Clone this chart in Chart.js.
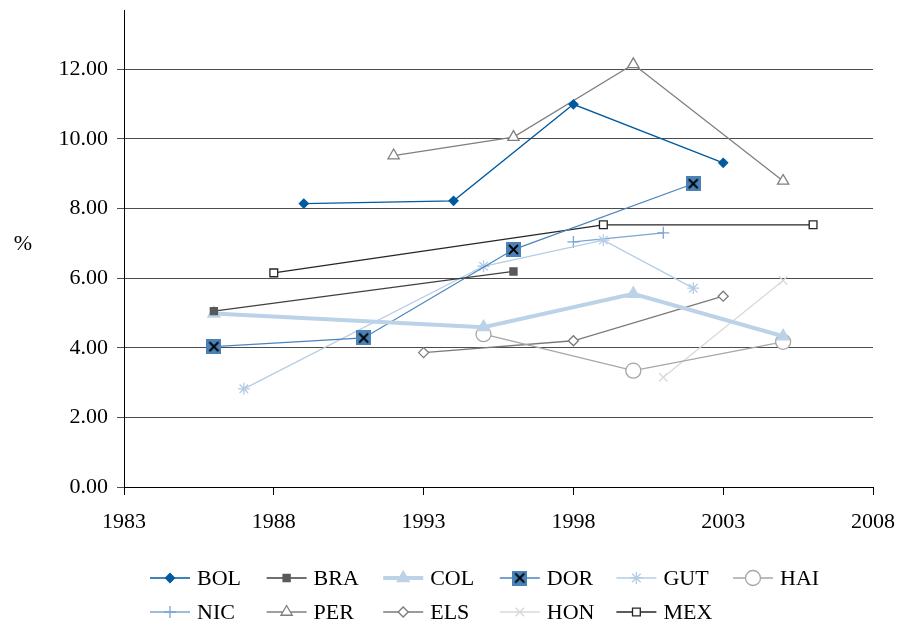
<!DOCTYPE html>
<html>
<head>
<meta charset="utf-8">
<script src="https://cdn.jsdelivr.net/npm/chart.js@4/dist/chart.umd.min.js"></script>
<style>
  body { margin: 0; background: #fff; }
  #wrap { width: 899px; height: 625px; }
</style>
</head>
<body>
<div id="wrap"><canvas id="chart"></canvas></div>
<script>
const countries = ["BOL", "BRA", "COL", "DOR", "GUT", "HAI", "NIC", "PER", "ELS", "HON", "MEX"];

const bolYears = [1989, 1994, 1998, 2003];
const bolValues = [8.14, 8.22, 10.99, 9.31];
const braYears = [1986, 1996];
const braValues = [5.05, 6.19];
const colYears = [1986, 1995, 2000, 2005];
const colValues = [4.98, 4.59, 5.55, 4.33];
const dorYears = [1986, 1991, 1996, 2002];
const dorValues = [4.03, 4.28, 6.82, 8.71];
const gutYears = [1987, 1995, 1999, 2002];
const gutValues = [2.82, 6.34, 7.09, 5.71];
const haiYears = [1995, 2000, 2005];
const haiValues = [4.39, 3.34, 4.17];
const nicYears = [1998, 2001];
const nicValues = [7.04, 7.3];
const perYears = [1992, 1996, 2000, 2005];
const perValues = [9.52, 10.05, 12.14, 8.79];
const elsYears = [1993, 1998, 2003];
const elsValues = [3.86, 4.2, 5.48];
const honYears = [2001, 2005];
const honValues = [3.15, 5.93];
const mexYears = [1988, 1999, 2006];
const mexValues = [6.15, 7.53, 7.53];

const xTicks = [1983, 1988, 1993, 1998, 2003, 2008];
const yTicks = [0, 2, 4, 6, 8, 10, 12];

const FONT = "'Liberation Serif', 'Times New Roman', serif";

function pts(xs, ys) {
  return xs.map((x, i) => ({ x: x, y: ys[i] }));
}

// blue square with a black X (DOR marker)
function xBox(size) {
  const c = document.createElement("canvas");
  c.width = size;
  c.height = size;
  const g = c.getContext("2d");
  g.fillStyle = "#4A82B8";
  g.fillRect(0, 0, size, size);
  g.strokeStyle = "#000";
  g.lineWidth = 1.8;
  g.beginPath();
  g.moveTo(3, 3);
  g.lineTo(size - 3, size - 3);
  g.moveTo(size - 3, 3);
  g.lineTo(3, size - 3);
  g.stroke();
  return c;
}

function series(label, xs, ys, line, style) {
  return Object.assign({
    label: label,
    data: pts(xs, ys),
    borderColor: line,
    borderWidth: 1.3,
    fill: false,
    tension: 0,
    pointBorderWidth: 1.3,
  }, style);
}

const datasets = [
  series("BOL", bolYears, bolValues, "#005A9E", { pointStyle: "rectRot", pointRadius: 4.5, pointBackgroundColor: "#005A9E", pointBorderColor: "#005A9E" }),
  series("BRA", braYears, braValues, "#404040", { pointStyle: "rect", pointRadius: 5, pointBackgroundColor: "#595959", pointBorderColor: "#595959" }),
  series("COL", colYears, colValues, "#BCD2E7", { borderWidth: 4, pointStyle: "triangle", pointRadius: 7, pointBackgroundColor: "#BCD2E7", pointBorderColor: "#BCD2E7" }),
  series("DOR", dorYears, dorValues, "#4A84BC", { pointStyle: xBox(15), pointRadius: 7 }),
  series("GUT", gutYears, gutValues, "#B5CCE4", { pointStyle: "star", pointRadius: 6, pointBorderColor: "#B5CCE4", pointBackgroundColor: "#B5CCE4" }),
  series("HAI", haiYears, haiValues, "#A6A6A6", { pointStyle: "circle", pointRadius: 7.5, pointBackgroundColor: "#fff", pointBorderColor: "#A6A6A6" }),
  series("NIC", nicYears, nicValues, "#7AA6D2", { pointStyle: "cross", pointRadius: 6, pointBorderColor: "#7AA6D2", pointBackgroundColor: "#7AA6D2" }),
  series("PER", perYears, perValues, "#7F7F7F", { pointStyle: "triangle", pointRadius: 6.5, pointBackgroundColor: "#fff", pointBorderColor: "#7F7F7F" }),
  series("ELS", elsYears, elsValues, "#7A7A7A", { pointStyle: "rectRot", pointRadius: 5, pointBackgroundColor: "#fff", pointBorderColor: "#7A7A7A" }),
  series("HON", honYears, honValues, "#D9D9D9", { pointStyle: "crossRot", pointRadius: 6, pointBorderColor: "#D9D9D9", pointBackgroundColor: "#D9D9D9" }),
  series("MEX", mexYears, mexValues, "#262626", { pointStyle: "rect", pointRadius: 5.5, pointBackgroundColor: "#fff", pointBorderColor: "#262626" }),
];

// grid legend like the Excel one + the "%" label
const extras = {
  id: "extras",
  afterDraw(chart) {
    const c = chart.ctx;
    c.save();
    c.fillStyle = "#000";
    c.font = "22px " + FONT;
    c.textAlign = "center";
    c.textBaseline = "middle";
    c.fillText("%", 23, 244);

    c.textAlign = "left";
    chart.data.datasets.forEach((ds, i) => {
      const row = i < 6 ? 0 : 1;
      const col = i < 6 ? i : i - 6;
      const x0 = 150 + col * 116.6;
      const y = 578 + row * 34;
      c.strokeStyle = ds.borderColor;
      c.lineWidth = ds.borderWidth;
      c.beginPath();
      c.moveTo(x0, y);
      c.lineTo(x0 + 40, y);
      c.stroke();
      c.fillStyle = ds.pointBackgroundColor || "#fff";
      c.strokeStyle = ds.pointBorderColor || ds.borderColor;
      c.lineWidth = ds.pointBorderWidth;
      Chart.helpers.drawPoint(c, {
        pointStyle: ds.pointStyle,
        radius: ds.pointRadius,
        rotation: 0,
        borderWidth: ds.pointBorderWidth,
      }, x0 + 20, y);
      c.fillStyle = "#000";
      c.fillText(ds.label, x0 + 47, y + 1);
    });
    c.restore();
  },
};

new Chart(document.getElementById("chart"), {
  type: "line",
  data: { datasets: datasets },
  plugins: [extras],
  options: {
    responsive: true,
    maintainAspectRatio: false,
    animation: false,
    layout: { padding: { left: 0, right: 26, top: 10, bottom: 88 } },
    plugins: {
      legend: { display: false },
      tooltip: { enabled: false },
    },
    scales: {
      x: {
        type: "linear",
        min: xTicks[0],
        max: xTicks[xTicks.length - 1],
        afterBuildTicks(scale) {
          scale.ticks = xTicks.map((v) => ({ value: v }));
        },
        afterFit(scale) {
          scale.height = 50;
          scale.paddingLeft = 0;
          scale.paddingRight = 0;
        },
        grid: { drawOnChartArea: false, drawTicks: true, tickLength: 8, color: "#000" },
        border: { color: "#000", width: 1 },
        ticks: {
          padding: 14,
          color: "#000",
          font: { family: FONT, size: 22 },
          maxRotation: 0,
          callback: (v) => String(v),
        },
      },
      y: {
        min: 0,
        max: 13.7,
        afterBuildTicks(scale) {
          scale.ticks = yTicks.map((v) => ({ value: v }));
        },
        afterFit(scale) {
          scale.width = 124;
          scale.paddingTop = 0;
          scale.paddingBottom = 0;
        },
        grid: { color: "#4d4d4d", lineWidth: 1, tickLength: 7 },
        border: { color: "#000", width: 1 },
        ticks: {
          padding: 9,
          color: "#000",
          font: { family: FONT, size: 22 },
          callback: (v) => v.toFixed(2),
        },
      },
    },
  },
});
</script>
</body>
</html>
